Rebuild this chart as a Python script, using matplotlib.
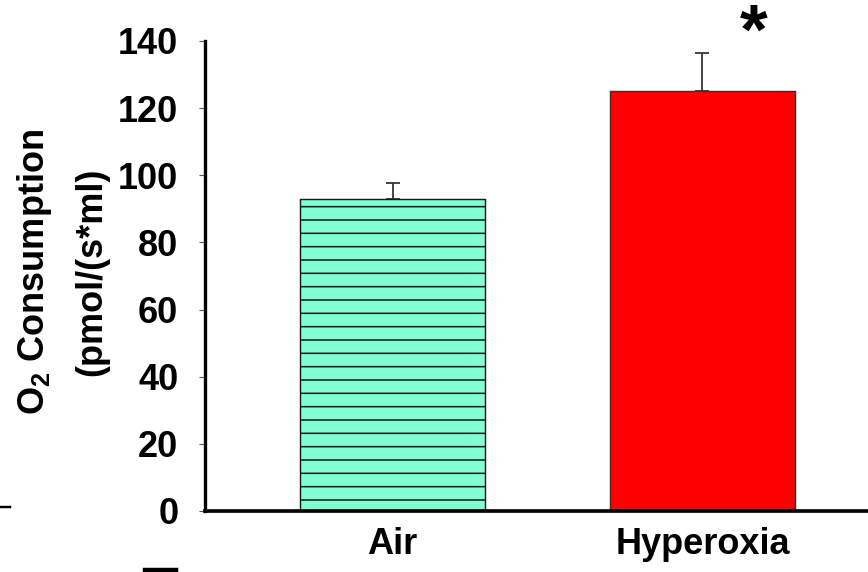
import matplotlib
matplotlib.use("Agg")
import matplotlib.pyplot as plt
from matplotlib.lines import Line2D

# ---- data ----
categories = ["Air", "Hyperoxia"]
values = [93.0, 125.0]
errors = [4.6, 11.5]
yticks = [0, 20, 40, 60, 80, 100, 120, 140]
significance = ["", "*"]

DPI = 80
W, H = 868, 572
plt.rcParams['font.family'] = ['Liberation Sans', 'DejaVu Sans']
plt.rcParams['font.weight'] = 'bold'
plt.rcParams['hatch.linewidth'] = 1.4

fig = plt.figure(figsize=(W / DPI, H / DPI), dpi=DPI)
ax = fig.add_axes([205 / W, 1 - 511 / H, 1 - 205 / W, (511 - 41) / H])

fs = 32.5
x = list(range(len(categories)))
bars = ax.bar(x, values, width=0.597,
              color=['#80FFD0', '#FF0000'],
              edgecolor=['#1a1a1a', '#333333'], linewidth=1.3, zorder=2)
bars[0].set_hatch('-')
ax.errorbar(x, values, yerr=[[0] * len(errors), errors], fmt='none',
            ecolor='#333333', elinewidth=1.6, capsize=6.5, capthick=1.6, zorder=1)

for xi, v, e, s in zip(x, values, errors, significance):
    if s:
        ax.text(xi + 0.165, v + e + 5.0, s, fontsize=64, fontweight='bold',
                ha='center', va='center', clip_on=False)

ax.set_xlim(-0.605, 1.534)
ax.set_ylim(0, 140)
ax.set_yticks(yticks)
ax.set_yticklabels([str(t) for t in yticks], fontsize=fs, fontweight='bold')
ax.set_xticks(x)
ax.set_xticklabels(categories, fontsize=fs, fontweight='bold')
ax.tick_params(axis='y', length=5, width=1, color='#555555', pad=19)
ax.tick_params(axis='x', length=0, pad=14)
for sp in ['top', 'right']:
    ax.spines[sp].set_visible(False)
ax.spines['left'].set_linewidth(3.0)
ax.spines['bottom'].set_linewidth(3.3)
ax.set_facecolor('none')

# y label (two lines)
fig.text(35 / W, 1 - 272 / H, r'O$\mathregular{_2}$ Consumption', rotation=90,
         ha='center', va='center', fontsize=fs, fontweight='bold')
fig.text(92 / W, 1 - 272 / H, '(pmol/(s*ml)', rotation=90,
         ha='center', va='center', fontsize=fs, fontweight='bold')

# stray cropped marks at the figure edges
fig.add_artist(Line2D([0 / W, 10 / W], [1 - 507 / H, 1 - 507 / H], color='black',
                      linewidth=2.2, transform=fig.transFigure))
fig.add_artist(Line2D([145 / W, 176 / W], [1 - 570 / H, 1 - 570 / H], color='black',
                      linewidth=4, transform=fig.transFigure))

fig.savefig("out.png", dpi=DPI)
